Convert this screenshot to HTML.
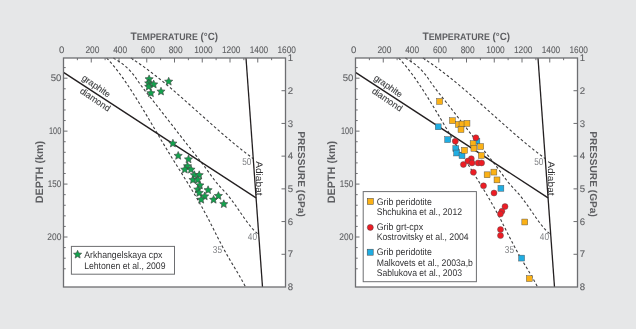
<!DOCTYPE html>
<html><head><meta charset="utf-8"><style>
html,body{margin:0;padding:0;background:#e6e7e8;}
svg{display:block;font-family:"Liberation Sans",sans-serif;will-change:transform;text-rendering:geometricPrecision;}
</style></head><body>
<svg width="636" height="329" viewBox="0 0 636 329">
<rect width="636" height="329" fill="#e6e7e8"/>
<rect x="63.5" y="58.0" width="222.0" height="229.0" fill="#fff"/>
<line x1="77.38" y1="58.0" x2="77.38" y2="60.2" stroke="#6d6e71" stroke-width="1"/>
<line x1="91.25" y1="58.0" x2="91.25" y2="62.5" stroke="#6d6e71" stroke-width="1"/>
<line x1="105.12" y1="58.0" x2="105.12" y2="60.2" stroke="#6d6e71" stroke-width="1"/>
<line x1="119.00" y1="58.0" x2="119.00" y2="62.5" stroke="#6d6e71" stroke-width="1"/>
<line x1="132.88" y1="58.0" x2="132.88" y2="60.2" stroke="#6d6e71" stroke-width="1"/>
<line x1="146.75" y1="58.0" x2="146.75" y2="62.5" stroke="#6d6e71" stroke-width="1"/>
<line x1="160.62" y1="58.0" x2="160.62" y2="60.2" stroke="#6d6e71" stroke-width="1"/>
<line x1="174.50" y1="58.0" x2="174.50" y2="62.5" stroke="#6d6e71" stroke-width="1"/>
<line x1="188.38" y1="58.0" x2="188.38" y2="60.2" stroke="#6d6e71" stroke-width="1"/>
<line x1="202.25" y1="58.0" x2="202.25" y2="62.5" stroke="#6d6e71" stroke-width="1"/>
<line x1="216.12" y1="58.0" x2="216.12" y2="60.2" stroke="#6d6e71" stroke-width="1"/>
<line x1="230.00" y1="58.0" x2="230.00" y2="62.5" stroke="#6d6e71" stroke-width="1"/>
<line x1="243.88" y1="58.0" x2="243.88" y2="60.2" stroke="#6d6e71" stroke-width="1"/>
<line x1="257.75" y1="58.0" x2="257.75" y2="62.5" stroke="#6d6e71" stroke-width="1"/>
<line x1="271.62" y1="58.0" x2="271.62" y2="60.2" stroke="#6d6e71" stroke-width="1"/>
<line x1="63.5" y1="67.62" x2="65.7" y2="67.62" stroke="#6d6e71" stroke-width="1"/>
<line x1="63.5" y1="78.20" x2="67.5" y2="78.20" stroke="#6d6e71" stroke-width="1"/>
<line x1="63.5" y1="88.79" x2="65.7" y2="88.79" stroke="#6d6e71" stroke-width="1"/>
<line x1="63.5" y1="99.38" x2="65.7" y2="99.38" stroke="#6d6e71" stroke-width="1"/>
<line x1="63.5" y1="109.97" x2="65.7" y2="109.97" stroke="#6d6e71" stroke-width="1"/>
<line x1="63.5" y1="120.55" x2="65.7" y2="120.55" stroke="#6d6e71" stroke-width="1"/>
<line x1="63.5" y1="131.14" x2="67.5" y2="131.14" stroke="#6d6e71" stroke-width="1"/>
<line x1="63.5" y1="141.73" x2="65.7" y2="141.73" stroke="#6d6e71" stroke-width="1"/>
<line x1="63.5" y1="152.31" x2="65.7" y2="152.31" stroke="#6d6e71" stroke-width="1"/>
<line x1="63.5" y1="162.90" x2="65.7" y2="162.90" stroke="#6d6e71" stroke-width="1"/>
<line x1="63.5" y1="173.49" x2="65.7" y2="173.49" stroke="#6d6e71" stroke-width="1"/>
<line x1="63.5" y1="184.08" x2="67.5" y2="184.08" stroke="#6d6e71" stroke-width="1"/>
<line x1="63.5" y1="194.66" x2="65.7" y2="194.66" stroke="#6d6e71" stroke-width="1"/>
<line x1="63.5" y1="205.25" x2="65.7" y2="205.25" stroke="#6d6e71" stroke-width="1"/>
<line x1="63.5" y1="215.84" x2="65.7" y2="215.84" stroke="#6d6e71" stroke-width="1"/>
<line x1="63.5" y1="226.42" x2="65.7" y2="226.42" stroke="#6d6e71" stroke-width="1"/>
<line x1="63.5" y1="237.01" x2="67.5" y2="237.01" stroke="#6d6e71" stroke-width="1"/>
<line x1="63.5" y1="247.60" x2="65.7" y2="247.60" stroke="#6d6e71" stroke-width="1"/>
<line x1="63.5" y1="258.18" x2="65.7" y2="258.18" stroke="#6d6e71" stroke-width="1"/>
<line x1="63.5" y1="268.77" x2="65.7" y2="268.77" stroke="#6d6e71" stroke-width="1"/>
<line x1="285.5" y1="90.71" x2="281.5" y2="90.71" stroke="#6d6e71" stroke-width="1"/>
<line x1="285.5" y1="123.43" x2="281.5" y2="123.43" stroke="#6d6e71" stroke-width="1"/>
<line x1="285.5" y1="156.14" x2="281.5" y2="156.14" stroke="#6d6e71" stroke-width="1"/>
<line x1="285.5" y1="188.86" x2="281.5" y2="188.86" stroke="#6d6e71" stroke-width="1"/>
<line x1="285.5" y1="221.57" x2="281.5" y2="221.57" stroke="#6d6e71" stroke-width="1"/>
<line x1="285.5" y1="254.29" x2="281.5" y2="254.29" stroke="#6d6e71" stroke-width="1"/>
<path d="M106.64,58.02 L108.20,59.67 L109.76,61.38 L111.32,63.16 L112.88,64.99 L114.45,66.89 L116.01,68.84 L117.57,70.85 L119.13,72.91 L120.69,75.02 L122.25,77.18 L123.81,79.38 L125.37,81.63 L126.94,83.91 L128.50,86.24 L130.06,88.60 L131.62,91.00 L133.18,93.43 L134.74,95.89 L136.30,98.38 L137.86,100.89 L139.43,103.43 L140.99,105.98 L142.55,108.56 L144.11,111.15 L145.67,113.76 L147.23,116.38 L148.79,119.01 L150.35,121.65 L151.92,124.30 L153.48,126.94 L155.04,129.59 L156.60,132.24 L158.16,134.89 L159.72,137.53 L161.28,140.16 L162.84,142.78 L164.41,145.39 L165.97,147.99 L167.53,150.57 L169.09,153.13 L170.65,155.67 L172.21,158.20 L173.77,160.72 L175.33,163.22 L176.90,165.72 L178.46,168.21 L180.02,170.70 L181.58,173.19 L183.14,175.69 L184.70,178.19 L186.26,180.70 L187.82,183.23 L189.38,185.77 L190.95,188.33 L192.51,190.92 L194.07,193.52 L195.63,196.16 L197.19,198.82 L198.75,201.52 L200.31,204.25 L201.87,207.03 L203.44,209.84 L205.00,212.70 L206.56,215.61 L208.12,218.56 L209.68,221.57 L211.24,224.63 L212.80,227.72 L214.36,230.82 L215.93,233.93 L217.49,237.02 L219.05,240.09 L220.61,243.12 L222.17,246.10 L223.73,249.01 L225.29,251.85 L226.85,254.61 L228.42,257.31 L229.98,259.96 L231.54,262.58 L233.10,265.18 L234.66,267.77 L236.22,270.37 L237.78,272.99 L239.34,275.66 L240.91,278.38 L242.47,281.17 L244.03,284.05 L245.59,287.03" fill="none" stroke="#3c3c3e" stroke-width="1.1" stroke-dasharray="2.7,2.2"/>
<path d="M113.35,58.02 L114.98,58.98 L116.61,59.96 L118.25,60.99 L119.88,62.07 L121.51,63.21 L123.15,64.43 L124.78,65.73 L126.41,67.15 L128.05,68.67 L129.68,70.32 L131.31,72.12 L132.95,74.06 L134.58,76.17 L136.21,78.45 L137.85,80.85 L139.48,83.25 L141.11,85.55 L142.75,87.75 L144.38,89.88 L146.01,91.96 L147.65,94.02 L149.28,96.07 L150.91,98.12 L152.55,100.18 L154.18,102.24 L155.81,104.31 L157.45,106.38 L159.08,108.46 L160.71,110.54 L162.35,112.63 L163.98,114.72 L165.62,116.81 L167.25,118.90 L168.88,121.00 L170.52,123.10 L172.15,125.20 L173.78,127.30 L175.42,129.41 L177.05,131.51 L178.68,133.62 L180.32,135.71 L181.95,137.81 L183.58,139.90 L185.22,141.98 L186.85,144.05 L188.48,146.11 L190.12,148.16 L191.75,150.21 L193.38,152.25 L195.02,154.30 L196.65,156.36 L198.28,158.43 L199.92,160.51 L201.55,162.62 L203.18,164.76 L204.82,166.93 L206.45,169.14 L208.08,171.38 L209.72,173.63 L211.35,175.87 L212.99,178.07 L214.62,180.22 L216.25,182.29 L217.89,184.26 L219.52,186.13 L221.15,187.92 L222.79,189.67 L224.42,191.42 L226.05,193.22 L227.69,195.10 L229.32,197.08 L230.95,199.18 L232.59,201.37 L234.22,203.63 L235.85,205.94 L237.49,208.29 L239.12,210.66 L240.75,213.04 L242.39,215.40 L244.02,217.73 L245.65,220.01 L247.29,222.22 L248.92,224.36 L250.55,226.39 L252.19,228.30 L253.82,230.08 L255.45,231.70 L257.09,233.16 L258.72,234.42" fill="none" stroke="#3c3c3e" stroke-width="1.1" stroke-dasharray="2.7,2.2"/>
<path d="M130.85,58.02 L132.23,58.89 L133.60,59.78 L134.98,60.69 L136.35,61.61 L137.73,62.54 L139.10,63.48 L140.48,64.44 L141.85,65.41 L143.23,66.39 L144.60,67.39 L145.98,68.39 L147.35,69.41 L148.73,70.44 L150.10,71.48 L151.48,72.53 L152.85,73.59 L154.23,74.65 L155.61,75.73 L156.98,76.82 L158.36,77.92 L159.73,79.03 L161.11,80.14 L162.48,81.26 L163.86,82.39 L165.23,83.53 L166.61,84.68 L167.98,85.83 L169.36,86.99 L170.73,88.15 L172.11,89.33 L173.48,90.50 L174.86,91.69 L176.23,92.87 L177.61,94.07 L178.98,95.26 L180.36,96.46 L181.74,97.67 L183.11,98.88 L184.49,100.09 L185.86,101.31 L187.24,102.53 L188.61,103.75 L189.99,104.97 L191.36,106.20 L192.74,107.42 L194.11,108.65 L195.49,109.88 L196.86,111.11 L198.24,112.34 L199.61,113.57 L200.99,114.81 L202.36,116.04 L203.74,117.27 L205.11,118.50 L206.49,119.72 L207.87,120.95 L209.24,122.17 L210.62,123.39 L211.99,124.61 L213.37,125.83 L214.74,127.04 L216.12,128.26 L217.49,129.46 L218.87,130.66 L220.24,131.86 L221.62,133.06 L222.99,134.25 L224.37,135.43 L225.74,136.61 L227.12,137.78 L228.49,138.95 L229.87,140.11 L231.24,141.26 L232.62,142.41 L234.00,143.55 L235.37,144.68 L236.75,145.81 L238.12,146.93 L239.50,148.03 L240.87,149.13 L242.25,150.23 L243.62,151.31 L245.00,152.38 L246.37,153.44 L247.75,154.49 L249.12,155.54 L250.50,156.57 L251.87,157.59 L253.25,158.60" fill="none" stroke="#3c3c3e" stroke-width="1.1" stroke-dasharray="2.7,2.2"/>
<line x1="63.5" y1="72.3" x2="256.08" y2="197.9" stroke="#231f20" stroke-width="1.4"/>
<line x1="246.0" y1="58.0" x2="262.5" y2="287.0" stroke="#231f20" stroke-width="1.3"/>
<rect x="63.5" y="58.0" width="222.0" height="229.0" fill="none" stroke="#6d6e71" stroke-width="1.3"/>
<text x="61.70" y="53.2" text-anchor="middle" font-size="9.6" fill="#5f6063" stroke="#5f6063" stroke-width="0.1">0</text>
<text x="92.45" y="53.2" text-anchor="middle" font-size="9.6" fill="#5f6063" stroke="#5f6063" stroke-width="0.1" textLength="14.0" lengthAdjust="spacingAndGlyphs">200</text>
<text x="120.20" y="53.2" text-anchor="middle" font-size="9.6" fill="#5f6063" stroke="#5f6063" stroke-width="0.1" textLength="14.0" lengthAdjust="spacingAndGlyphs">400</text>
<text x="147.95" y="53.2" text-anchor="middle" font-size="9.6" fill="#5f6063" stroke="#5f6063" stroke-width="0.1" textLength="14.0" lengthAdjust="spacingAndGlyphs">600</text>
<text x="175.70" y="53.2" text-anchor="middle" font-size="9.6" fill="#5f6063" stroke="#5f6063" stroke-width="0.1" textLength="14.0" lengthAdjust="spacingAndGlyphs">800</text>
<text x="203.45" y="53.2" text-anchor="middle" font-size="9.6" fill="#5f6063" stroke="#5f6063" stroke-width="0.1" textLength="18.5" lengthAdjust="spacingAndGlyphs">1000</text>
<text x="231.20" y="53.2" text-anchor="middle" font-size="9.6" fill="#5f6063" stroke="#5f6063" stroke-width="0.1" textLength="18.5" lengthAdjust="spacingAndGlyphs">1200</text>
<text x="258.95" y="53.2" text-anchor="middle" font-size="9.6" fill="#5f6063" stroke="#5f6063" stroke-width="0.1" textLength="18.5" lengthAdjust="spacingAndGlyphs">1400</text>
<text x="286.70" y="53.2" text-anchor="middle" font-size="9.6" fill="#5f6063" stroke="#5f6063" stroke-width="0.1" textLength="18.5" lengthAdjust="spacingAndGlyphs">1600</text>
<text x="61.30" y="81.41" text-anchor="end" font-size="9.6" fill="#5f6063" stroke="#5f6063" stroke-width="0.1">50</text>
<text x="61.30" y="134.34" text-anchor="end" font-size="9.6" fill="#5f6063" stroke="#5f6063" stroke-width="0.1" textLength="12.3" lengthAdjust="spacingAndGlyphs">100</text>
<text x="61.30" y="187.28" text-anchor="end" font-size="9.6" fill="#5f6063" stroke="#5f6063" stroke-width="0.1" textLength="13.5" lengthAdjust="spacingAndGlyphs">150</text>
<text x="61.30" y="240.21" text-anchor="end" font-size="9.6" fill="#5f6063" stroke="#5f6063" stroke-width="0.1" textLength="14.0" lengthAdjust="spacingAndGlyphs">200</text>
<text x="287.80" y="61.20" font-size="9.6" fill="#5f6063" stroke="#5f6063" stroke-width="0.1">1</text>
<text x="287.80" y="93.91" font-size="9.6" fill="#5f6063" stroke="#5f6063" stroke-width="0.1">2</text>
<text x="287.80" y="126.63" font-size="9.6" fill="#5f6063" stroke="#5f6063" stroke-width="0.1">3</text>
<text x="287.80" y="159.34" font-size="9.6" fill="#5f6063" stroke="#5f6063" stroke-width="0.1">4</text>
<text x="287.80" y="192.06" font-size="9.6" fill="#5f6063" stroke="#5f6063" stroke-width="0.1">5</text>
<text x="287.80" y="224.77" font-size="9.6" fill="#5f6063" stroke="#5f6063" stroke-width="0.1">6</text>
<text x="287.80" y="257.49" font-size="9.6" fill="#5f6063" stroke="#5f6063" stroke-width="0.1">7</text>
<text x="287.80" y="290.20" font-size="9.6" fill="#5f6063" stroke="#5f6063" stroke-width="0.1">8</text>
<text x="130.4" y="40.3" font-size="11" font-weight="bold" fill="#5d5e61" textLength="87.6" lengthAdjust="spacingAndGlyphs">T<tspan font-size="9.5">EMPERATURE</tspan><tspan font-size="10.5"> (°C)</tspan></text>
<text transform="translate(43.0,203.2) rotate(-90)" font-size="10.8" font-weight="bold" fill="#5d5e61" textLength="62.4" lengthAdjust="spacingAndGlyphs">DEPTH (km)</text>
<text transform="translate(298.3,131.2) rotate(90)" font-size="10" font-weight="bold" fill="#5d5e61" textLength="85.6" lengthAdjust="spacingAndGlyphs">PRESSURE (GPa)</text>
<text transform="translate(81.2,79.3) rotate(34.60)" font-size="9" fill="#414244" stroke="#414244" stroke-width="0.12">graphite</text>
<text transform="translate(79.2,92.4) rotate(34.10)" font-size="9" fill="#414244" stroke="#414244" stroke-width="0.12">diamond</text>
<text transform="translate(256.1,161.2) rotate(90)" font-size="9.5" fill="#2d2d2f" textLength="34.4" lengthAdjust="spacingAndGlyphs">Adiabat</text>
<text x="242.2" y="165.0" font-size="10" fill="#808285" textLength="9.2" lengthAdjust="spacingAndGlyphs">50</text>
<text x="247.8" y="239.6" font-size="10" fill="#808285" textLength="9.2" lengthAdjust="spacingAndGlyphs">40</text>
<text x="212.8" y="252.8" font-size="10" fill="#808285" textLength="9.2" lengthAdjust="spacingAndGlyphs">35</text>
<rect x="355.5" y="58.0" width="222.0" height="229.0" fill="#fff"/>
<line x1="369.38" y1="58.0" x2="369.38" y2="60.2" stroke="#6d6e71" stroke-width="1"/>
<line x1="383.25" y1="58.0" x2="383.25" y2="62.5" stroke="#6d6e71" stroke-width="1"/>
<line x1="397.12" y1="58.0" x2="397.12" y2="60.2" stroke="#6d6e71" stroke-width="1"/>
<line x1="411.00" y1="58.0" x2="411.00" y2="62.5" stroke="#6d6e71" stroke-width="1"/>
<line x1="424.88" y1="58.0" x2="424.88" y2="60.2" stroke="#6d6e71" stroke-width="1"/>
<line x1="438.75" y1="58.0" x2="438.75" y2="62.5" stroke="#6d6e71" stroke-width="1"/>
<line x1="452.62" y1="58.0" x2="452.62" y2="60.2" stroke="#6d6e71" stroke-width="1"/>
<line x1="466.50" y1="58.0" x2="466.50" y2="62.5" stroke="#6d6e71" stroke-width="1"/>
<line x1="480.38" y1="58.0" x2="480.38" y2="60.2" stroke="#6d6e71" stroke-width="1"/>
<line x1="494.25" y1="58.0" x2="494.25" y2="62.5" stroke="#6d6e71" stroke-width="1"/>
<line x1="508.12" y1="58.0" x2="508.12" y2="60.2" stroke="#6d6e71" stroke-width="1"/>
<line x1="522.00" y1="58.0" x2="522.00" y2="62.5" stroke="#6d6e71" stroke-width="1"/>
<line x1="535.88" y1="58.0" x2="535.88" y2="60.2" stroke="#6d6e71" stroke-width="1"/>
<line x1="549.75" y1="58.0" x2="549.75" y2="62.5" stroke="#6d6e71" stroke-width="1"/>
<line x1="563.62" y1="58.0" x2="563.62" y2="60.2" stroke="#6d6e71" stroke-width="1"/>
<line x1="355.5" y1="67.62" x2="357.7" y2="67.62" stroke="#6d6e71" stroke-width="1"/>
<line x1="355.5" y1="78.20" x2="359.5" y2="78.20" stroke="#6d6e71" stroke-width="1"/>
<line x1="355.5" y1="88.79" x2="357.7" y2="88.79" stroke="#6d6e71" stroke-width="1"/>
<line x1="355.5" y1="99.38" x2="357.7" y2="99.38" stroke="#6d6e71" stroke-width="1"/>
<line x1="355.5" y1="109.97" x2="357.7" y2="109.97" stroke="#6d6e71" stroke-width="1"/>
<line x1="355.5" y1="120.55" x2="357.7" y2="120.55" stroke="#6d6e71" stroke-width="1"/>
<line x1="355.5" y1="131.14" x2="359.5" y2="131.14" stroke="#6d6e71" stroke-width="1"/>
<line x1="355.5" y1="141.73" x2="357.7" y2="141.73" stroke="#6d6e71" stroke-width="1"/>
<line x1="355.5" y1="152.31" x2="357.7" y2="152.31" stroke="#6d6e71" stroke-width="1"/>
<line x1="355.5" y1="162.90" x2="357.7" y2="162.90" stroke="#6d6e71" stroke-width="1"/>
<line x1="355.5" y1="173.49" x2="357.7" y2="173.49" stroke="#6d6e71" stroke-width="1"/>
<line x1="355.5" y1="184.08" x2="359.5" y2="184.08" stroke="#6d6e71" stroke-width="1"/>
<line x1="355.5" y1="194.66" x2="357.7" y2="194.66" stroke="#6d6e71" stroke-width="1"/>
<line x1="355.5" y1="205.25" x2="357.7" y2="205.25" stroke="#6d6e71" stroke-width="1"/>
<line x1="355.5" y1="215.84" x2="357.7" y2="215.84" stroke="#6d6e71" stroke-width="1"/>
<line x1="355.5" y1="226.42" x2="357.7" y2="226.42" stroke="#6d6e71" stroke-width="1"/>
<line x1="355.5" y1="237.01" x2="359.5" y2="237.01" stroke="#6d6e71" stroke-width="1"/>
<line x1="355.5" y1="247.60" x2="357.7" y2="247.60" stroke="#6d6e71" stroke-width="1"/>
<line x1="355.5" y1="258.18" x2="357.7" y2="258.18" stroke="#6d6e71" stroke-width="1"/>
<line x1="355.5" y1="268.77" x2="357.7" y2="268.77" stroke="#6d6e71" stroke-width="1"/>
<line x1="577.5" y1="90.71" x2="573.5" y2="90.71" stroke="#6d6e71" stroke-width="1"/>
<line x1="577.5" y1="123.43" x2="573.5" y2="123.43" stroke="#6d6e71" stroke-width="1"/>
<line x1="577.5" y1="156.14" x2="573.5" y2="156.14" stroke="#6d6e71" stroke-width="1"/>
<line x1="577.5" y1="188.86" x2="573.5" y2="188.86" stroke="#6d6e71" stroke-width="1"/>
<line x1="577.5" y1="221.57" x2="573.5" y2="221.57" stroke="#6d6e71" stroke-width="1"/>
<line x1="577.5" y1="254.29" x2="573.5" y2="254.29" stroke="#6d6e71" stroke-width="1"/>
<path d="M398.64,58.02 L400.20,59.67 L401.76,61.38 L403.32,63.16 L404.88,64.99 L406.45,66.89 L408.01,68.84 L409.57,70.85 L411.13,72.91 L412.69,75.02 L414.25,77.18 L415.81,79.38 L417.37,81.63 L418.94,83.91 L420.50,86.24 L422.06,88.60 L423.62,91.00 L425.18,93.43 L426.74,95.89 L428.30,98.38 L429.86,100.89 L431.43,103.43 L432.99,105.98 L434.55,108.56 L436.11,111.15 L437.67,113.76 L439.23,116.38 L440.79,119.01 L442.35,121.65 L443.92,124.30 L445.48,126.94 L447.04,129.59 L448.60,132.24 L450.16,134.89 L451.72,137.53 L453.28,140.16 L454.84,142.78 L456.41,145.39 L457.97,147.99 L459.53,150.57 L461.09,153.13 L462.65,155.67 L464.21,158.20 L465.77,160.72 L467.33,163.22 L468.90,165.72 L470.46,168.21 L472.02,170.70 L473.58,173.19 L475.14,175.69 L476.70,178.19 L478.26,180.70 L479.82,183.23 L481.38,185.77 L482.95,188.33 L484.51,190.92 L486.07,193.52 L487.63,196.16 L489.19,198.82 L490.75,201.52 L492.31,204.25 L493.87,207.03 L495.44,209.84 L497.00,212.70 L498.56,215.61 L500.12,218.56 L501.68,221.57 L503.24,224.63 L504.80,227.72 L506.36,230.82 L507.93,233.93 L509.49,237.02 L511.05,240.09 L512.61,243.12 L514.17,246.10 L515.73,249.01 L517.29,251.85 L518.85,254.61 L520.42,257.31 L521.98,259.96 L523.54,262.58 L525.10,265.18 L526.66,267.77 L528.22,270.37 L529.78,272.99 L531.34,275.66 L532.91,278.38 L534.47,281.17 L536.03,284.05 L537.59,287.03" fill="none" stroke="#3c3c3e" stroke-width="1.1" stroke-dasharray="2.7,2.2"/>
<path d="M405.35,58.02 L406.98,58.98 L408.61,59.96 L410.25,60.99 L411.88,62.07 L413.51,63.21 L415.15,64.43 L416.78,65.73 L418.41,67.15 L420.05,68.67 L421.68,70.32 L423.31,72.12 L424.95,74.06 L426.58,76.17 L428.21,78.45 L429.85,80.85 L431.48,83.25 L433.11,85.55 L434.75,87.75 L436.38,89.88 L438.01,91.96 L439.65,94.02 L441.28,96.07 L442.91,98.12 L444.55,100.18 L446.18,102.24 L447.81,104.31 L449.45,106.38 L451.08,108.46 L452.71,110.54 L454.35,112.63 L455.98,114.72 L457.62,116.81 L459.25,118.90 L460.88,121.00 L462.52,123.10 L464.15,125.20 L465.78,127.30 L467.42,129.41 L469.05,131.51 L470.68,133.62 L472.32,135.71 L473.95,137.81 L475.58,139.90 L477.22,141.98 L478.85,144.05 L480.48,146.11 L482.12,148.16 L483.75,150.21 L485.38,152.25 L487.02,154.30 L488.65,156.36 L490.28,158.43 L491.92,160.51 L493.55,162.62 L495.18,164.76 L496.82,166.93 L498.45,169.14 L500.08,171.38 L501.72,173.63 L503.35,175.87 L504.99,178.07 L506.62,180.22 L508.25,182.29 L509.89,184.26 L511.52,186.13 L513.15,187.92 L514.79,189.67 L516.42,191.42 L518.05,193.22 L519.69,195.10 L521.32,197.08 L522.95,199.18 L524.59,201.37 L526.22,203.63 L527.85,205.94 L529.49,208.29 L531.12,210.66 L532.75,213.04 L534.39,215.40 L536.02,217.73 L537.65,220.01 L539.29,222.22 L540.92,224.36 L542.55,226.39 L544.19,228.30 L545.82,230.08 L547.45,231.70 L549.09,233.16 L550.72,234.42" fill="none" stroke="#3c3c3e" stroke-width="1.1" stroke-dasharray="2.7,2.2"/>
<path d="M422.85,58.02 L424.23,58.89 L425.60,59.78 L426.98,60.69 L428.35,61.61 L429.73,62.54 L431.10,63.48 L432.48,64.44 L433.85,65.41 L435.23,66.39 L436.60,67.39 L437.98,68.39 L439.35,69.41 L440.73,70.44 L442.10,71.48 L443.48,72.53 L444.85,73.59 L446.23,74.65 L447.61,75.73 L448.98,76.82 L450.36,77.92 L451.73,79.03 L453.11,80.14 L454.48,81.26 L455.86,82.39 L457.23,83.53 L458.61,84.68 L459.98,85.83 L461.36,86.99 L462.73,88.15 L464.11,89.33 L465.48,90.50 L466.86,91.69 L468.23,92.87 L469.61,94.07 L470.98,95.26 L472.36,96.46 L473.74,97.67 L475.11,98.88 L476.49,100.09 L477.86,101.31 L479.24,102.53 L480.61,103.75 L481.99,104.97 L483.36,106.20 L484.74,107.42 L486.11,108.65 L487.49,109.88 L488.86,111.11 L490.24,112.34 L491.61,113.57 L492.99,114.81 L494.36,116.04 L495.74,117.27 L497.11,118.50 L498.49,119.72 L499.87,120.95 L501.24,122.17 L502.62,123.39 L503.99,124.61 L505.37,125.83 L506.74,127.04 L508.12,128.26 L509.49,129.46 L510.87,130.66 L512.24,131.86 L513.62,133.06 L514.99,134.25 L516.37,135.43 L517.74,136.61 L519.12,137.78 L520.49,138.95 L521.87,140.11 L523.24,141.26 L524.62,142.41 L526.00,143.55 L527.37,144.68 L528.75,145.81 L530.12,146.93 L531.50,148.03 L532.87,149.13 L534.25,150.23 L535.62,151.31 L537.00,152.38 L538.37,153.44 L539.75,154.49 L541.12,155.54 L542.50,156.57 L543.87,157.59 L545.25,158.60" fill="none" stroke="#3c3c3e" stroke-width="1.1" stroke-dasharray="2.7,2.2"/>
<line x1="355.5" y1="72.3" x2="548.08" y2="197.9" stroke="#231f20" stroke-width="1.4"/>
<line x1="538.0" y1="58.0" x2="554.5" y2="287.0" stroke="#231f20" stroke-width="1.3"/>
<rect x="355.5" y="58.0" width="222.0" height="229.0" fill="none" stroke="#6d6e71" stroke-width="1.3"/>
<text x="353.70" y="53.2" text-anchor="middle" font-size="9.6" fill="#5f6063" stroke="#5f6063" stroke-width="0.1">0</text>
<text x="384.45" y="53.2" text-anchor="middle" font-size="9.6" fill="#5f6063" stroke="#5f6063" stroke-width="0.1" textLength="14.0" lengthAdjust="spacingAndGlyphs">200</text>
<text x="412.20" y="53.2" text-anchor="middle" font-size="9.6" fill="#5f6063" stroke="#5f6063" stroke-width="0.1" textLength="14.0" lengthAdjust="spacingAndGlyphs">400</text>
<text x="439.95" y="53.2" text-anchor="middle" font-size="9.6" fill="#5f6063" stroke="#5f6063" stroke-width="0.1" textLength="14.0" lengthAdjust="spacingAndGlyphs">600</text>
<text x="467.70" y="53.2" text-anchor="middle" font-size="9.6" fill="#5f6063" stroke="#5f6063" stroke-width="0.1" textLength="14.0" lengthAdjust="spacingAndGlyphs">800</text>
<text x="495.45" y="53.2" text-anchor="middle" font-size="9.6" fill="#5f6063" stroke="#5f6063" stroke-width="0.1" textLength="18.5" lengthAdjust="spacingAndGlyphs">1000</text>
<text x="523.20" y="53.2" text-anchor="middle" font-size="9.6" fill="#5f6063" stroke="#5f6063" stroke-width="0.1" textLength="18.5" lengthAdjust="spacingAndGlyphs">1200</text>
<text x="550.95" y="53.2" text-anchor="middle" font-size="9.6" fill="#5f6063" stroke="#5f6063" stroke-width="0.1" textLength="18.5" lengthAdjust="spacingAndGlyphs">1400</text>
<text x="578.70" y="53.2" text-anchor="middle" font-size="9.6" fill="#5f6063" stroke="#5f6063" stroke-width="0.1" textLength="18.5" lengthAdjust="spacingAndGlyphs">1600</text>
<text x="353.30" y="81.41" text-anchor="end" font-size="9.6" fill="#5f6063" stroke="#5f6063" stroke-width="0.1">50</text>
<text x="353.30" y="134.34" text-anchor="end" font-size="9.6" fill="#5f6063" stroke="#5f6063" stroke-width="0.1" textLength="12.3" lengthAdjust="spacingAndGlyphs">100</text>
<text x="353.30" y="187.28" text-anchor="end" font-size="9.6" fill="#5f6063" stroke="#5f6063" stroke-width="0.1" textLength="13.5" lengthAdjust="spacingAndGlyphs">150</text>
<text x="353.30" y="240.21" text-anchor="end" font-size="9.6" fill="#5f6063" stroke="#5f6063" stroke-width="0.1" textLength="14.0" lengthAdjust="spacingAndGlyphs">200</text>
<text x="579.80" y="61.20" font-size="9.6" fill="#5f6063" stroke="#5f6063" stroke-width="0.1">1</text>
<text x="579.80" y="93.91" font-size="9.6" fill="#5f6063" stroke="#5f6063" stroke-width="0.1">2</text>
<text x="579.80" y="126.63" font-size="9.6" fill="#5f6063" stroke="#5f6063" stroke-width="0.1">3</text>
<text x="579.80" y="159.34" font-size="9.6" fill="#5f6063" stroke="#5f6063" stroke-width="0.1">4</text>
<text x="579.80" y="192.06" font-size="9.6" fill="#5f6063" stroke="#5f6063" stroke-width="0.1">5</text>
<text x="579.80" y="224.77" font-size="9.6" fill="#5f6063" stroke="#5f6063" stroke-width="0.1">6</text>
<text x="579.80" y="257.49" font-size="9.6" fill="#5f6063" stroke="#5f6063" stroke-width="0.1">7</text>
<text x="579.80" y="290.20" font-size="9.6" fill="#5f6063" stroke="#5f6063" stroke-width="0.1">8</text>
<text x="422.4" y="40.3" font-size="11" font-weight="bold" fill="#5d5e61" textLength="87.6" lengthAdjust="spacingAndGlyphs">T<tspan font-size="9.5">EMPERATURE</tspan><tspan font-size="10.5"> (°C)</tspan></text>
<text transform="translate(335.0,203.2) rotate(-90)" font-size="10.8" font-weight="bold" fill="#5d5e61" textLength="62.4" lengthAdjust="spacingAndGlyphs">DEPTH (km)</text>
<text transform="translate(590.3,131.2) rotate(90)" font-size="10" font-weight="bold" fill="#5d5e61" textLength="85.6" lengthAdjust="spacingAndGlyphs">PRESSURE (GPa)</text>
<text transform="translate(373.2,79.3) rotate(34.60)" font-size="9" fill="#414244" stroke="#414244" stroke-width="0.12">graphite</text>
<text transform="translate(371.2,92.4) rotate(34.10)" font-size="9" fill="#414244" stroke="#414244" stroke-width="0.12">diamond</text>
<text transform="translate(548.1,161.2) rotate(90)" font-size="9.5" fill="#2d2d2f" textLength="34.4" lengthAdjust="spacingAndGlyphs">Adiabat</text>
<text x="534.2" y="165.0" font-size="10" fill="#808285" textLength="9.2" lengthAdjust="spacingAndGlyphs">50</text>
<text x="539.8" y="239.6" font-size="10" fill="#808285" textLength="9.2" lengthAdjust="spacingAndGlyphs">40</text>
<text x="504.8" y="252.8" font-size="10" fill="#808285" textLength="9.2" lengthAdjust="spacingAndGlyphs">35</text>
<g fill="#13a24d" stroke="#414042" stroke-width="0.6"><polygon points="149.10,74.90 150.28,77.58 153.19,77.87 151.00,79.82 151.63,82.68 149.10,81.20 146.57,82.68 147.20,79.82 145.01,77.87 147.92,77.58"/><polygon points="148.70,79.00 149.88,81.68 152.79,81.97 150.60,83.92 151.23,86.78 148.70,85.30 146.17,86.78 146.80,83.92 144.61,81.97 147.52,81.68"/><polygon points="153.70,80.10 154.88,82.78 157.79,83.07 155.60,85.02 156.23,87.88 153.70,86.40 151.17,87.88 151.80,85.02 149.61,83.07 152.52,82.78"/><polygon points="148.70,82.40 149.88,85.08 152.79,85.37 150.60,87.32 151.23,90.18 148.70,88.70 146.17,90.18 146.80,87.32 144.61,85.37 147.52,85.08"/><polygon points="150.90,88.90 152.08,91.58 154.99,91.87 152.80,93.82 153.43,96.68 150.90,95.20 148.37,96.68 149.00,93.82 146.81,91.87 149.72,91.58"/><polygon points="161.00,87.20 162.18,89.88 165.09,90.17 162.90,92.12 163.53,94.98 161.00,93.50 158.47,94.98 159.10,92.12 156.91,90.17 159.82,89.88"/><polygon points="168.70,77.30 169.88,79.98 172.79,80.27 170.60,82.22 171.23,85.08 168.70,83.60 166.17,85.08 166.80,82.22 164.61,80.27 167.52,79.98"/><polygon points="172.90,139.20 174.08,141.88 176.99,142.17 174.80,144.12 175.43,146.98 172.90,145.50 170.37,146.98 171.00,144.12 168.81,142.17 171.72,141.88"/><polygon points="178.20,151.50 179.38,154.18 182.29,154.47 180.10,156.42 180.73,159.28 178.20,157.80 175.67,159.28 176.30,156.42 174.11,154.47 177.02,154.18"/><polygon points="188.50,155.00 189.68,157.68 192.59,157.97 190.40,159.92 191.03,162.78 188.50,161.30 185.97,162.78 186.60,159.92 184.41,157.97 187.32,157.68"/><polygon points="187.50,161.90 188.68,164.58 191.59,164.87 189.40,166.82 190.03,169.68 187.50,168.20 184.97,169.68 185.60,166.82 183.41,164.87 186.32,164.58"/><polygon points="184.80,165.30 185.98,167.98 188.89,168.27 186.70,170.22 187.33,173.08 184.80,171.60 182.27,173.08 182.90,170.22 180.71,168.27 183.62,167.98"/><polygon points="191.00,165.30 192.18,167.98 195.09,168.27 192.90,170.22 193.53,173.08 191.00,171.60 188.47,173.08 189.10,170.22 186.91,168.27 189.82,167.98"/><polygon points="194.40,170.80 195.58,173.48 198.49,173.77 196.30,175.72 196.93,178.58 194.40,177.10 191.87,178.58 192.50,175.72 190.31,173.77 193.22,173.48"/><polygon points="199.20,170.80 200.38,173.48 203.29,173.77 201.10,175.72 201.73,178.58 199.20,177.10 196.67,178.58 197.30,175.72 195.11,173.77 198.02,173.48"/><polygon points="193.00,175.60 194.18,178.28 197.09,178.57 194.90,180.52 195.53,183.38 193.00,181.90 190.47,183.38 191.10,180.52 188.91,178.57 191.82,178.28"/><polygon points="197.80,175.60 198.98,178.28 201.89,178.57 199.70,180.52 200.33,183.38 197.80,181.90 195.27,183.38 195.90,180.52 193.71,178.57 196.62,178.28"/><polygon points="199.90,181.00 201.08,183.68 203.99,183.97 201.80,185.92 202.43,188.78 199.90,187.30 197.37,188.78 198.00,185.92 195.81,183.97 198.72,183.68"/><polygon points="208.10,185.80 209.28,188.48 212.19,188.77 210.00,190.72 210.63,193.58 208.10,192.10 205.57,193.58 206.20,190.72 204.01,188.77 206.92,188.48"/><polygon points="197.80,185.20 198.98,187.88 201.89,188.17 199.70,190.12 200.33,192.98 197.80,191.50 195.27,192.98 195.90,190.12 193.71,188.17 196.62,187.88"/><polygon points="199.20,188.60 200.38,191.28 203.29,191.57 201.10,193.52 201.73,196.38 199.20,194.90 196.67,196.38 197.30,193.52 195.11,191.57 198.02,191.28"/><polygon points="204.70,192.00 205.88,194.68 208.79,194.97 206.60,196.92 207.23,199.78 204.70,198.30 202.17,199.78 202.80,196.92 200.61,194.97 203.52,194.68"/><polygon points="201.20,195.40 202.38,198.08 205.29,198.37 203.10,200.32 203.73,203.18 201.20,201.70 198.67,203.18 199.30,200.32 197.11,198.37 200.02,198.08"/><polygon points="213.60,195.40 214.78,198.08 217.69,198.37 215.50,200.32 216.13,203.18 213.60,201.70 211.07,203.18 211.70,200.32 209.51,198.37 212.42,198.08"/><polygon points="218.40,191.60 219.58,194.28 222.49,194.57 220.30,196.52 220.93,199.38 218.40,197.90 215.87,199.38 216.50,196.52 214.31,194.57 217.22,194.28"/><polygon points="223.80,199.80 224.98,202.48 227.89,202.77 225.70,204.72 226.33,207.58 223.80,206.10 221.27,207.58 221.90,204.72 219.71,202.77 222.62,202.48"/></g>
<g fill="#20ade2" stroke="#4d4e50" stroke-width="0.45"><rect x="435.25" y="123.85" width="5.9" height="5.9"/><rect x="444.75" y="136.65" width="5.9" height="5.9"/><rect x="473.95" y="138.25" width="5.9" height="5.9"/><rect x="452.85" y="145.65" width="5.9" height="5.9"/><rect x="453.75" y="150.05" width="5.9" height="5.9"/><rect x="459.05" y="152.65" width="5.9" height="5.9"/><rect x="497.95" y="185.35" width="5.9" height="5.9"/><rect x="518.65" y="255.15" width="5.9" height="5.9"/></g>
<g fill="#fbb116" stroke="#4d4e50" stroke-width="0.45"><rect x="436.65" y="98.45" width="5.9" height="5.9"/><rect x="449.45" y="117.75" width="5.9" height="5.9"/><rect x="455.45" y="121.45" width="5.9" height="5.9"/><rect x="459.05" y="121.05" width="5.9" height="5.9"/><rect x="464.05" y="120.45" width="5.9" height="5.9"/><rect x="458.05" y="126.55" width="5.9" height="5.9"/><rect x="470.15" y="140.75" width="5.9" height="5.9"/><rect x="477.75" y="143.55" width="5.9" height="5.9"/><rect x="470.95" y="145.35" width="5.9" height="5.9"/><rect x="461.55" y="147.35" width="5.9" height="5.9"/><rect x="478.35" y="152.55" width="5.9" height="5.9"/><rect x="484.15" y="171.85" width="5.9" height="5.9"/><rect x="490.95" y="169.15" width="5.9" height="5.9"/><rect x="494.05" y="176.95" width="5.9" height="5.9"/><rect x="521.85" y="219.05" width="5.9" height="5.9"/><rect x="526.35" y="275.65" width="5.9" height="5.9"/></g>
<g fill="#ed1c24" stroke="#4d4e50" stroke-width="0.45"><circle cx="475.9" cy="137.8" r="3.0"/><circle cx="455.3" cy="141.3" r="3.0"/><circle cx="471.3" cy="158.7" r="3.0"/><circle cx="467.9" cy="161" r="3.0"/><circle cx="472" cy="162.9" r="3.0"/><circle cx="463.4" cy="164.5" r="3.0"/><circle cx="478.1" cy="162.9" r="3.0"/><circle cx="481.6" cy="162.9" r="3.0"/><circle cx="473.4" cy="172.3" r="3.0"/><circle cx="483.5" cy="185.8" r="3.0"/><circle cx="494" cy="193" r="3.0"/><circle cx="505" cy="206.6" r="3.0"/><circle cx="501.9" cy="211.3" r="3.0"/><circle cx="500.4" cy="214" r="3.0"/><circle cx="500.5" cy="229.6" r="3.0"/><circle cx="500.5" cy="235.6" r="3.0"/></g>
<rect x="71.4" y="246.4" width="103.1" height="27.8" fill="#fff" stroke="#6d6e71" stroke-width="1"/>
<g fill="#13a24d" stroke="#414042" stroke-width="0.6"><polygon points="77.60,250.30 78.78,252.98 81.69,253.27 79.50,255.22 80.13,258.08 77.60,256.60 75.07,258.08 75.70,255.22 73.51,253.27 76.42,252.98"/></g>
<text x="84.2" y="258.2" font-size="9.6" fill="#333335" textLength="78.2" lengthAdjust="spacingAndGlyphs">Arkhangelskaya cpx</text>
<text x="84.2" y="268.7" font-size="9.6" fill="#333335" textLength="81.3" lengthAdjust="spacingAndGlyphs">Lehtonen et al., 2009</text>
<rect x="363.2" y="191.6" width="113.2" height="90.1" fill="#fff" stroke="#6d6e71" stroke-width="1"/>
<rect x="367.3" y="198.4" width="6" height="6" fill="#fbb116" stroke="#414042" stroke-width="0.5"/>
<circle cx="370.3" cy="227.4" r="3" fill="#ed1c24" stroke="#414042" stroke-width="0.5"/>
<rect x="367.2" y="249.2" width="6" height="6" fill="#20ade2" stroke="#414042" stroke-width="0.5"/>
<text x="376.7" y="204.5" font-size="9.6" fill="#333335" textLength="55.2" lengthAdjust="spacingAndGlyphs">Grib peridotite</text>
<text x="376.7" y="214.5" font-size="9.6" fill="#333335" textLength="85.3" lengthAdjust="spacingAndGlyphs">Shchukina et al., 2012</text>
<text x="376.7" y="229.6" font-size="9.6" fill="#333335" textLength="46.5" lengthAdjust="spacingAndGlyphs">Grib grt-cpx</text>
<text x="376.7" y="240.2" font-size="9.6" fill="#333335" textLength="91.9" lengthAdjust="spacingAndGlyphs">Kostrovitsky et al., 2004</text>
<text x="376.7" y="255.2" font-size="9.6" fill="#333335" textLength="55.2" lengthAdjust="spacingAndGlyphs">Grib peridotite</text>
<text x="376.7" y="265.6" font-size="9.6" fill="#333335" textLength="96.2" lengthAdjust="spacingAndGlyphs">Malkovets et al., 2003a,b</text>
<text x="376.7" y="276" font-size="9.6" fill="#333335" textLength="85.3" lengthAdjust="spacingAndGlyphs">Sablukova et al., 2003</text>
</svg>
</body></html>
